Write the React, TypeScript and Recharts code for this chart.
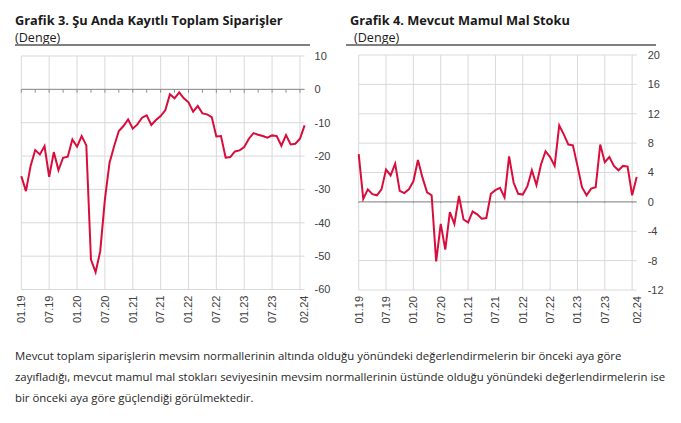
import { LineChart, Line, XAxis, YAxis, CartesianGrid, ReferenceLine } from "recharts";

// --- Monthly series, 01.19 .. 02.24 ---
const months = [
  "01.19", "02.19", "03.19", "04.19", "05.19", "06.19", "07.19", "08.19", "09.19", "10.19", "11.19", "12.19",
  "01.20", "02.20", "03.20", "04.20", "05.20", "06.20", "07.20", "08.20", "09.20", "10.20", "11.20", "12.20",
  "01.21", "02.21", "03.21", "04.21", "05.21", "06.21", "07.21", "08.21", "09.21", "10.21", "11.21", "12.21",
  "01.22", "02.22", "03.22", "04.22", "05.22", "06.22", "07.22", "08.22", "09.22", "10.22", "11.22", "12.22",
  "01.23", "02.23", "03.23", "04.23", "05.23", "06.23", "07.23", "08.23", "09.23", "10.23", "11.23", "12.23",
  "01.24", "02.24",
];

// Grafik 3: Şu anda kayıtlı toplam siparişler
const orders = [
  -26, -30.5, -23, -18.2, -19.5, -17, -26.2, -18.8, -24.2, -20.5, -20.2, -15,
  -17.2, -14, -16.8, -51, -54.8, -48.5, -33, -22, -17, -12.5, -11, -9,
  -11.8, -10.5, -8.5, -7.8, -10.7, -9.2, -8, -6.3, -1.5, -2.7, -0.9, -2.7,
  -3.9, -6.7, -5, -7.2, -7.5, -8.3, -14.1, -14, -20.5, -20.3, -18.6, -18.3,
  -17.3, -14.8, -13.1, -13.6, -14, -14.5, -13.8, -14, -16.9, -13.7, -16.5, -16.3,
  -14.8, -10.8,
];

// Grafik 4: Mevcut mamul mal stoku
const stocks = [
  6.5, 0.4, 1.7, 1.05, 0.9, 1.7, 4.4, 3.6, 5.2, 1.5, 1.2, 1.7,
  2.8, 5.7, 3.3, 1.3, 0.9, -8.1, -3.0, -6.5, -1.4, -3.0, 0.8, -2.4,
  -2.8, -1.3, -1.7, -2.3, -2.2, 1.1, 1.6, 1.9, 0.6, 6.2, 2.6, 1.1,
  1.0, 2.1, 4.3, 2.3, 5.1, 6.9, 6.1, 4.9, 10.4, 9.2, 7.8, 7.7,
  4.9, 2.0, 0.9, 1.8, 2.0, 7.8, 5.4, 6.1, 4.9, 4.3, 4.9, 4.8,
  0.9, 3.4,
];

const xTicks = [0, 6, 12, 18, 24, 30, 36, 42, 48, 54, 61];
const gridMonths = [0, 6, 12, 18, 24, 30, 36, 42, 48, 54, 60];
const leftZeroTicks = [0, 3, 6, 9, 12, 15, 18, 21, 24, 27, 30, 33, 36, 39, 42, 45, 48, 51, 54, 57, 60];
const rightZeroTicks = [0, 6, 12, 18, 24, 30, 36, 42, 48, 54, 60];
const leftYTicks = [10, 0, -10, -20, -30, -40, -50, -60];
const rightYTicks = [20, 16, 12, 8, 4, 0, -4, -8, -12];

const ordersData = months.map((m, i) => ({ i, month: m, value: orders[i] }));
const stocksData = months.map((m, i) => ({ i, month: m, value: stocks[i] }));

const LINE = "#d80d3c";
const GRID = "#d9d9d9";
const ZERO = "#8c8c8c";
const TEXT = "#404040";
const TICK_FONT = "'Liberation Sans', Arial, sans-serif";
const BODY_FONT = "'Open Sans', sans-serif";

const MonthTick = ({ x, y, payload }: any) => (
  <text
    x={x}
    y={y}
    transform={`rotate(-90 ${x} ${y})`}
    textAnchor="end"
    dy="0.35em"
    fill={TEXT}
    fontSize={11}
    fontFamily={TICK_FONT}
  >
    {months[payload.value]}
  </text>
);

const Panel = ({ data, domain, yTicks, zeroTicks, tickLen, left, width, margin, yWidth, yGap }: any) => (
  <div style={{ position: "absolute", left, top: 0 }}>
    <LineChart width={width} height={340} data={data} margin={margin}>
      <CartesianGrid stroke={GRID} verticalValues={gridMonths} horizontalValues={yTicks} />
      <XAxis
        type="number"
        dataKey="i"
        domain={[0, 61]}
        ticks={xTicks}
        interval={0}
        axisLine={false}
        tickLine={false}
        tickSize={0}
        tickMargin={6}
        height={40}
        tick={<MonthTick />}
      />
      <YAxis
        orientation="right"
        domain={domain}
        ticks={yTicks}
        interval={0}
        axisLine={false}
        tickLine={false}
        tickSize={0}
        tickMargin={yGap}
        width={yWidth}
        tick={{ fill: TEXT, fontSize: 11, fontFamily: TICK_FONT, textAnchor: "start" }}
      />
      <ReferenceLine y={0} stroke={ZERO} strokeWidth={1} />
      {zeroTicks.map((m: number) => (
        <ReferenceLine key={m} segment={[{ x: m, y: 0 }, { x: m, y: -tickLen }]} stroke={ZERO} />
      ))}
      <Line
        type="linear"
        dataKey="value"
        stroke={LINE}
        strokeWidth={2}
        dot={false}
        isAnimationActive={false}
      />
    </LineChart>
  </div>
);

const Title = ({ left, text, sub, subLeft, lineLeft, lineWidth }: any) => (
  <>
    <div style={{ position: "absolute", left, top: 11, fontFamily: BODY_FONT, fontWeight: 700, fontSize: 12.8, color: "#1a1a1a", whiteSpace: "nowrap" }}>
      {text}
    </div>
    <div style={{ position: "absolute", left: subLeft, top: 28.5, fontFamily: BODY_FONT, fontSize: 12.6, color: "#1a1a1a", whiteSpace: "nowrap" }}>
      {sub}
    </div>
    <div style={{ position: "absolute", left: lineLeft, top: 44, width: lineWidth, height: 2, background: "#7f7f7f" }} />
  </>
);

const paragraph = [
  "Mevcut toplam siparişlerin mevsim normallerinin altında olduğu yönündeki değerlendirmelerin bir önceki aya göre",
  "zayıfladığı, mevcut mamul mal stokları seviyesinin mevsim normallerinin üstünde olduğu yönündeki değerlendirmelerin ise",
  "bir önceki aya göre güçlendiği görülmektedir.",
];

export default function App() {
  return (
    <div style={{ position: "absolute", left: 0, top: 0, width: 681, height: 423, background: "#fff", overflow: "hidden" }}>
      <Title left={15} text="Grafik 3. Şu Anda Kayıtlı Toplam Siparişler" sub="(Denge)" subLeft={15} lineLeft={15} lineWidth={295} />
      <Title left={350} text="Grafik 4. Mevcut Mamul Mal Stoku" sub="(Denge)" subLeft={354} lineLeft={346} lineWidth={310} />
      <Panel
        data={ordersData}
        domain={[-60, 10]}
        yTicks={leftYTicks}
        zeroTicks={leftZeroTicks}
        tickLen={1}
        left={0}
        width={340}
        margin={{ top: 56, right: 5.4, bottom: 10.5, left: 21.3 }}
        yWidth={30}
        yGap={10}
      />
      <Panel
        data={stocksData}
        domain={[-12, 20]}
        yTicks={rightYTicks}
        zeroTicks={rightZeroTicks}
        tickLen={0.15}
        left={340}
        width={341}
        margin={{ top: 55, right: 9.3, bottom: 10, left: 18.7 }}
        yWidth={35}
        yGap={11}
      />
      <div style={{ position: "absolute", left: 15, top: 345, fontFamily: BODY_FONT, fontSize: 11.4, lineHeight: "21px", color: "#262626" }}>
        {paragraph.map((line) => (
          <div key={line} style={{ whiteSpace: "nowrap" }}>{line}</div>
        ))}
      </div>
    </div>
  );
}
